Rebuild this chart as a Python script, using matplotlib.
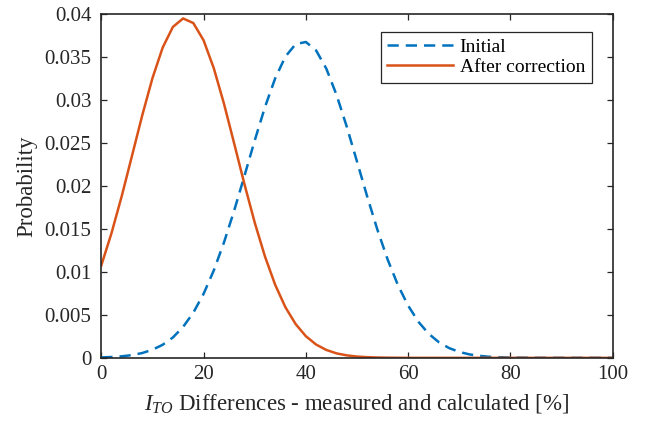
import matplotlib.pyplot as plt
import numpy as np

plt.rcParams['font.family'] = 'Liberation Serif'
plt.rcParams['mathtext.fontset'] = 'custom'
plt.rcParams['mathtext.rm'] = 'Liberation Serif'
plt.rcParams['mathtext.it'] = 'Liberation Serif:italic'

# values, every 2 %
x = np.arange(0, 101, 2)
initial = [0.00005, 0.0001, 0.00018, 0.00032, 0.00056, 0.00094, 0.00152, 0.00237,
           0.0036, 0.00526, 0.00744, 0.01017, 0.01344, 0.01716, 0.02119, 0.02528,
           0.02916, 0.03251, 0.03504, 0.03649, 0.03674, 0.03576, 0.03364, 0.03058,
           0.02688, 0.02283, 0.01875, 0.01488, 0.01142, 0.00846, 0.00607, 0.0042,
           0.00281, 0.00182, 0.00114, 0.00069, 0.0004, 0.00023, 0.00012, 0.00007,
           0.00003, 0.00002, 0.00001, 0, 0, 0, 0, 0, 0, 0, 0]
after = [0.01074, 0.0145, 0.01881, 0.02348, 0.02818, 0.03252, 0.03608, 0.03849,
         0.03948, 0.03894, 0.03694, 0.03369, 0.02954, 0.0249, 0.02019, 0.01574,
         0.0118, 0.0085, 0.00589, 0.00393, 0.00252, 0.00155, 0.00092, 0.00052,
         0.00029, 0.00015, 0.00008, 0.00004, 0.00002, 0.00001, 0, 0, 0, 0, 0, 0,
         0, 0, 0, 0, 0, 0, 0, 0, 0, 0, 0, 0, 0, 0, 0]

xticks = [0, 20, 40, 60, 80, 100]
yticks = [0, 0.005, 0.01, 0.015, 0.02, 0.025, 0.03, 0.035, 0.04]
ylabels = ['0', '0.005', '0.01', '0.015', '0.02', '0.025', '0.03', '0.035', '0.04']

fig = plt.figure(figsize=(6.45, 4.23), dpi=100)
ax = fig.add_axes([0.157, 0.154, 0.793, 0.813])

ax.plot(x, initial, '--', color='#0072BD', lw=1.8, dashes=(4.5, 2.8), label='Initial')
ax.plot(x, after, '-', color='#D95319', lw=1.8, label='After correction')

ax.set_xlim(0, 100)
ax.set_ylim(0, 0.04)
ax.set_xticks(xticks)
ax.set_yticks(yticks)
ax.set_yticklabels(ylabels)
ax.tick_params(direction='in', top=True, right=True, labelsize=15, colors='#262626',
               length=4, width=0.9)
ax.tick_params(axis='y', pad=7)
ax.tick_params(axis='x', pad=5)
for s in ax.spines.values():
    s.set_color('#262626')
    s.set_linewidth(1.2)

ax.set_ylabel('Probability', fontsize=16.5, color='#262626', labelpad=5)
ax.set_xlabel('$I_{TO}$ Differences - measured and calculated [%]', fontsize=16.5,
              color='#262626', labelpad=6)

leg = ax.legend(loc='upper right', bbox_to_anchor=(0.959, 0.948), borderaxespad=0,
                fontsize=14, fancybox=False, framealpha=1, handlelength=3.35,
                handletextpad=0.36, borderpad=0.35, labelspacing=0.1)
leg.get_frame().set_edgecolor('#262626')
leg.get_frame().set_linewidth(0.9)

fig.savefig('out.png', dpi=100)
